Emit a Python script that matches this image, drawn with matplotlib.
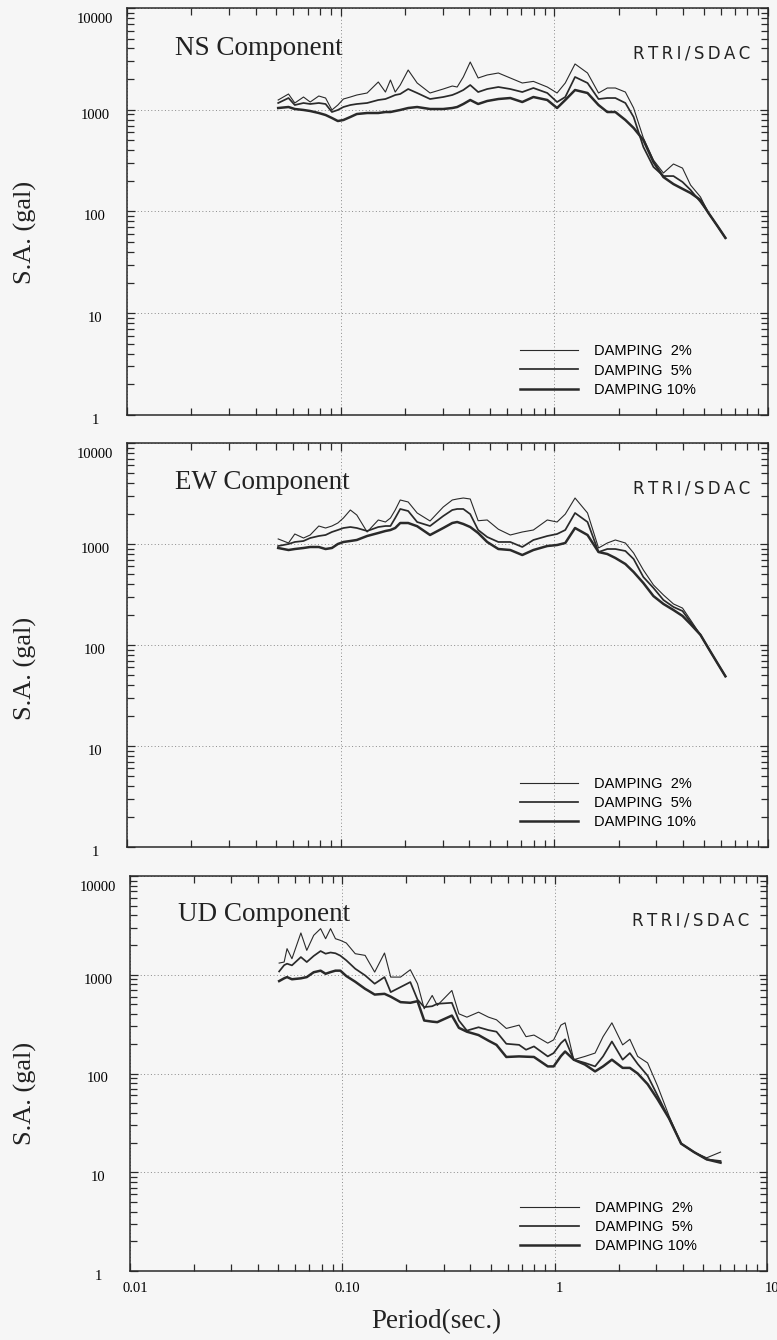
import matplotlib
matplotlib.use("Agg")
import matplotlib.pyplot as plt
from matplotlib.ticker import NullFormatter
import matplotlib.transforms as mtrans

plt.rcParams['font.family'] = ['Liberation Serif', 'DejaVu Serif']

# response spectra: period (sec) and S.A. (gal)
period = [0.051, 0.057, 0.061, 0.067, 0.072, 0.079, 0.085, 0.091, 0.097, 0.103,
          0.111, 0.119, 0.133, 0.150, 0.162, 0.171, 0.180, 0.190, 0.207, 0.228,
          0.262, 0.302, 0.333, 0.351, 0.375, 0.404, 0.440, 0.485, 0.547, 0.622,
          0.708, 0.798, 0.927, 1.03, 1.125, 1.25, 1.43, 1.61, 1.77, 1.93,
          2.15, 2.35, 2.61, 2.91, 3.24, 3.61, 3.98, 4.34, 4.83, 5.26, 5.80, 6.32]

ns_2 = [1247, 1428, 1165, 1334, 1191, 1365, 1304, 995, 1113, 1275,
        1334, 1396, 1461, 1874, 1493, 1960, 1493, 1750, 2458, 1832,
        1461, 1599, 1711, 1673, 2099, 2945, 2052, 2196, 2297, 2052,
        1832, 1900, 1673, 1461, 1832, 2818, 2297, 1461, 1636, 1636,
        1493, 1040, 528, 320, 239, 293, 267, 182, 139, 97, 72, 55]
ns_5 = [1165, 1304, 1113, 1165, 1139, 1165, 1139, 950, 995, 1064,
        1113, 1139, 1165, 1247, 1275, 1334, 1396, 1428, 1599, 1461,
        1275, 1334, 1396, 1461, 1563, 1750, 1493, 1599, 1673, 1599,
        1493, 1636, 1461, 1191, 1334, 2099, 1832, 1275, 1304, 1304,
        1165, 849, 431, 274, 223, 223, 195, 163, 124, 97, 72, 55]
ns_10 = [1040, 1064, 1017, 995, 972, 929, 888, 830, 775, 793,
         849, 908, 929, 929, 950, 950, 972, 995, 1040, 1064,
         1017, 1017, 1040, 1064, 1139, 1247, 1139, 1219, 1275, 1304,
         1191, 1334, 1247, 1040, 1247, 1563, 1461, 1113, 950, 950,
         793, 662, 504, 306, 218, 186, 167, 152, 130, 97, 72, 55]

ew_2 = [1122, 1023, 1256, 1146, 1228, 1507, 1440, 1507, 1614, 1808,
        2171, 1936, 1315, 1729, 1651, 1808, 2171, 2727, 2606, 2028,
        1690, 2324, 2727, 2790, 2853, 2790, 1700, 1729, 1400, 1228,
        1315, 1376, 1729, 1651, 1975, 2853, 2028, 913, 1023, 1096,
        1023, 814, 553, 393, 313, 255, 232, 177, 126, 93, 66, 49]
ew_5 = [955, 1000, 1047, 1071, 1146, 1200, 1228, 1315, 1376, 1440,
        1473, 1440, 1345, 1473, 1507, 1507, 1808, 2222, 2122, 1651,
        1507, 1892, 2171, 2222, 2222, 1975, 1376, 1173, 1047, 1047,
        934, 1096, 1200, 1256, 1376, 2028, 1651, 833, 892, 892,
        853, 710, 471, 367, 279, 238, 217, 169, 126, 93, 66, 49]
ew_10 = [913, 872, 892, 913, 934, 934, 892, 913, 1000, 1047,
         1071, 1096, 1200, 1285, 1345, 1376, 1440, 1614, 1614, 1500,
         1228, 1440, 1614, 1651, 1578, 1473, 1285, 1047, 892, 872,
         778, 872, 955, 977, 1023, 1440, 1228, 833, 796, 727,
         634, 528, 411, 305, 255, 222, 194, 161, 126, 93, 66, 49]

period_ud = [0.0504, 0.0532, 0.0549, 0.0579, 0.0638, 0.0680, 0.0733, 0.0790, 0.0834, 0.0880,
             0.0928, 0.0979, 0.1044, 0.1150, 0.128, 0.132, 0.142, 0.158, 0.169, 0.188,
             0.209, 0.226, 0.243, 0.265, 0.280, 0.328, 0.354, 0.386, 0.438, 0.488,
             0.532, 0.592, 0.680, 0.733, 0.799, 0.928, 0.989, 1.07, 1.12, 1.23,
             1.39, 1.55, 1.69, 1.86, 2.09, 2.26, 2.46, 2.74, 3.05, 3.46,
             3.94, 4.53, 5.20, 6.04]
ud_2 = [1313, 1345, 1837, 1453, 2649, 1766, 2506, 2930, 2317, 2930,
        2317, 2231, 2096, 1634, 1571, 1399, 1064, 1660, 947, 947,
        1124, 811, 452, 617, 489, 693, 402, 372, 418, 372,
        350, 286, 309, 236, 245, 203, 219, 309, 326, 138,
        149, 161, 236, 326, 195, 222, 149, 128, 75, 37,
        19.5, 16, 14, 16]
ud_5 = [1080, 1250, 1294, 1245, 1510, 1345, 1550, 1738, 1634, 1680,
        1650, 1560, 1399, 1151, 985, 930, 811, 947, 667, 750,
        843, 560, 470, 480, 508, 520, 344, 272, 294, 275,
        265, 200, 195, 174, 188, 149, 161, 203, 222, 138,
        128, 118, 149, 211, 138, 161, 125, 95, 60, 35,
        19.5, 16, 13.5, 13]
ud_10 = [863, 920, 947, 900, 920, 947, 1060, 1100, 1023, 1064,
         1100, 1100, 970, 850, 720, 693, 630, 641, 600, 528,
         520, 540, 344, 335, 331, 386, 290, 265, 245, 215,
         195, 147, 149, 148, 147, 118, 118, 150, 167, 138,
         123, 105, 118, 138, 114, 114, 100, 78, 55, 35,
         19.5, 16, 13.5, 12.5]

damping_labels = ['DAMPING  2%', 'DAMPING  5%', 'DAMPING 10%']
components = ['NS Component', 'EW Component', 'UD Component']
source = '\u2009'.join('RTRI/SDAC')
y_ticks = [1, 10, 100, 1000, 10000]
y_ticklabels = ['1', '10', '100', '1000', '10000']
x_ticks = [0.01, 0.1, 1, 10]
x_ticklabels = ['0.01', '0.10', '1', '10']

panels = [(period, [ns_2, ns_5, ns_10]),
          (period, [ew_2, ew_5, ew_10]),
          (period_ud, [ud_2, ud_5, ud_10])]

W, H = 777, 1340
ink = '#2a2a2a'
bg = '#f6f6f6'
widths = [0.8, 1.25, 1.8]
# axes boxes in pixels: left, top, right, bottom
boxes = [(127, 8, 768, 415), (127, 443, 768, 847), (130, 876, 767, 1271)]
ylab_y = [232, 668, 1093]

fig = plt.figure(figsize=(W / 100, H / 100), dpi=100, facecolor=bg)
down = mtrans.ScaledTranslation(0, -0.04, fig.dpi_scale_trans)
down_top = mtrans.ScaledTranslation(0, -0.10, fig.dpi_scale_trans)
right = mtrans.ScaledTranslation(0.05, 0, fig.dpi_scale_trans)

for i, ((T, curves), (l, t, r, b)) in enumerate(zip(panels, boxes)):
    ax = fig.add_axes([l / W, 1 - b / H, (r - l) / W, (b - t) / H])
    ax.set_facecolor(bg)
    ax.set_xscale('log')
    ax.set_yscale('log')
    for vals, lw, lab in zip(curves, widths, damping_labels):
        ax.plot(T, vals, color=ink, lw=lw, label=lab, solid_joinstyle='round')
    ax.set_xlim(0.01, 10)
    ax.set_ylim(1, 10000)
    ax.grid(which='major', ls=(0, (1, 2.5)), color='#8a8a8a', lw=0.7)
    ax.set_axisbelow(True)

    ax.set_yticks(y_ticks)
    ax.set_yticklabels(y_ticklabels, fontsize=10.5)
    ax.set_xticks(x_ticks)
    if i == 2:
        ax.set_xticklabels(x_ticklabels, fontsize=10.5)
    else:
        ax.set_xticklabels([])
    ax.xaxis.set_minor_formatter(NullFormatter())
    ax.yaxis.set_minor_formatter(NullFormatter())
    ax.tick_params(which='both', direction='in', top=True, right=True,
                   color=ink, width=0.9)
    ax.tick_params(which='major', length=6)
    ax.tick_params(which='minor', length=5)
    ax.tick_params(axis='y', pad=23)
    ax.tick_params(axis='x', pad=8)
    ylabels = ax.get_yticklabels()
    for k, lbl in enumerate(ylabels):
        lbl.set_horizontalalignment('center')
        lbl.set_transform(lbl.get_transform() + (down_top if k == len(ylabels) - 1 else down))
    for lbl in ax.get_xticklabels():
        lbl.set_transform(lbl.get_transform() + right)
    for sp in ax.spines.values():
        sp.set_linewidth(1.1)
        sp.set_color(ink)

    ax.text(0.075, 0.885, components[i], transform=ax.transAxes, fontsize=19.5,
            ha='left', va='baseline', color='#222222')
    ax.text(0.972, 0.875, source, transform=ax.transAxes, fontsize=12,
            family=['DejaVu Sans'], ha='right', va='baseline', color='#222222')
    ax.legend(loc='lower left', bbox_to_anchor=(0.613, 0.045), frameon=False,
              handlelength=4.0, handletextpad=1.1, labelspacing=0.35,
              borderpad=0, borderaxespad=0,
              prop={'family': ['Liberation Sans', 'DejaVu Sans'], 'size': 10.5})

    fig.text(25 / W, 1 - ylab_y[i] / H, 'S.A. (gal)', rotation=90, fontsize=19,
             ha='center', va='center', color='#222222')

fig.text(436 / W, 1 - 1322 / H, 'Period(sec.)', fontsize=19.5,
         ha='center', va='center', color='#222222')

fig.savefig('out.png', dpi=100, facecolor=bg)
